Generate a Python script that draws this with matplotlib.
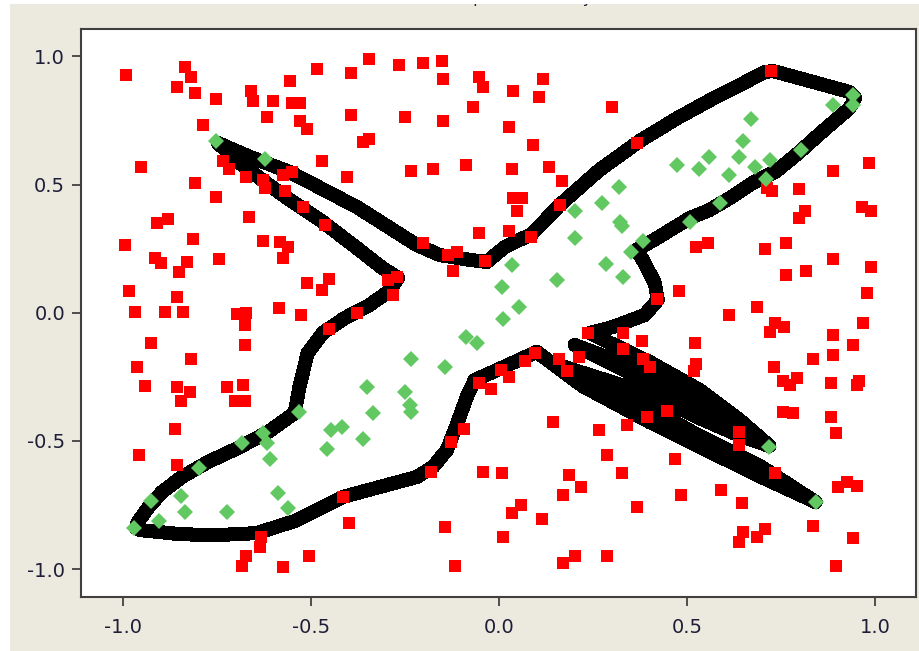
import matplotlib
matplotlib.use("Agg")
import matplotlib.pyplot as plt
from matplotlib.patches import Rectangle

# class 1 samples (red squares)
red_x = [-0.991, -0.836, -0.820, -0.858, -0.809, -0.752, -0.659, -0.654, -0.601, -0.557,
         -0.552, -0.617, -0.787, -0.953, -0.734, -0.719, -0.809, -0.672, -0.628, -0.623,
         -0.574, -0.552, -0.570, -0.752, -0.665, -0.910, -0.880, -0.815, -0.995, -0.629,
         -0.583, -0.561, -0.574, -0.916, -0.898, -0.831, -0.852, -0.745, -0.985, -0.858,
         -0.969, -0.889, -0.842, -0.698, -0.672, -0.585, -0.484, -0.393, -0.346, -0.266,
         -0.202, -0.153, -0.149, -0.053, -0.043, -0.069, -0.530, -0.530, -0.512, -0.393,
         -0.251, -0.149, -0.362, -0.346, -0.472, -0.404, -0.235, -0.176, -0.089, -0.521,
         -0.464, -0.202, -0.136, -0.112, -0.122, -0.038, -0.053, -0.295, -0.271, -0.282,
         -0.512, -0.472, -0.452, -0.379, -0.526, 0.037, 0.117, 0.106, 0.299, 0.027,
         0.090, 0.033, 0.133, 0.166, 0.037, 0.060, 0.048, 0.027, 0.086, 0.161,
         0.367, 0.525, 0.556, 0.479, 0.420, 0.724, 0.713, 0.727, 0.798, 0.813,
         0.798, 0.888, 0.984, 0.964, 0.990, 0.707, 0.762, 0.888, 0.990, 0.762,
         0.815, 0.979, 0.687, 0.612, -0.677, -0.927, -0.820, -0.963, -0.942, -0.856,
         -0.821, -0.847, -0.725, -0.681, -0.703, -0.676, -0.676, -0.863, -0.958, -0.856,
         -0.632, -0.636, -0.674, -0.685, -0.574, -0.452, -0.415, -0.399, -0.506, -0.182,
         -0.127, -0.093, -0.053, -0.022, 0.006, -0.043, 0.009, -0.144, -0.118, 0.011,
         0.237, 0.330, 0.379, 0.330, 0.383, 0.401, 0.520, 0.525, 0.519, 0.027,
         0.068, 0.095, 0.160, 0.181, 0.213, 0.144, 0.265, 0.340, 0.394, 0.447,
         0.286, 0.326, 0.469, 0.186, 0.217, 0.170, 0.057, 0.033, 0.113, 0.485,
         0.367, 0.201, 0.170, 0.287, 0.591, 0.735, 0.757, 0.720, 0.888, 0.968,
         0.941, 0.835, 0.888, 0.731, 0.754, 0.773, 0.793, 0.884, 0.957, 0.953,
         0.755, 0.782, 0.884, 0.895, 0.638, 0.638, 0.733, 0.645, 0.902, 0.924,
         0.951, 0.835, 0.649, 0.638, 0.685, 0.707, 0.941, 0.895]
red_y = [0.927, 0.960, 0.921, 0.882, 0.856, 0.834, 0.865, 0.826, 0.826, 0.904,
         0.818, 0.765, 0.732, 0.567, 0.592, 0.561, 0.505, 0.528, 0.518, 0.485,
         0.537, 0.550, 0.476, 0.450, 0.372, 0.349, 0.366, 0.288, 0.264, 0.280,
         0.277, 0.258, 0.212, 0.212, 0.193, 0.197, 0.160, 0.208, 0.085, 0.062,
         0.002, 0.004, 0.002, -0.006, -0.002, 0.020, 0.951, 0.936, 0.990, 0.966,
         0.975, 0.983, 0.912, 0.921, 0.879, 0.804, 0.819, 0.749, 0.717, 0.771,
         0.762, 0.748, 0.665, 0.678, 0.592, 0.528, 0.553, 0.561, 0.576, 0.414,
         0.342, 0.271, 0.225, 0.238, 0.163, 0.202, 0.310, 0.128, 0.138, 0.069,
         0.115, 0.089, 0.131, -0.002, -0.009, 0.865, 0.912, 0.843, 0.804, 0.726,
         0.654, 0.561, 0.567, 0.514, 0.449, 0.446, 0.397, 0.319, 0.294, 0.420,
         0.663, 0.258, 0.271, 0.085, 0.053, 0.943, 0.485, 0.475, 0.483, 0.397,
         0.368, 0.554, 0.585, 0.414, 0.397, 0.249, 0.273, 0.210, 0.177, 0.147,
         0.163, 0.076, 0.021, -0.009, -0.048, -0.119, -0.182, -0.213, -0.285, -0.291,
         -0.308, -0.343, -0.291, -0.282, -0.343, -0.343, -0.126, -0.455, -0.555, -0.594,
         -0.874, -0.913, -0.949, -0.988, -0.993, -0.065, -0.720, -0.822, -0.948, -0.620,
         -0.503, -0.455, -0.275, -0.298, -0.224, -0.620, -0.627, -0.837, -0.987, -0.874,
         -0.080, -0.078, -0.110, -0.143, -0.182, -0.213, -0.119, -0.200, -0.226, -0.250,
         -0.187, -0.156, -0.182, -0.226, -0.174, -0.425, -0.458, -0.438, -0.406, -0.384,
         -0.555, -0.627, -0.572, -0.633, -0.681, -0.711, -0.750, -0.783, -0.806, -0.711,
         -0.759, -0.948, -0.978, -0.948, -0.692, -0.041, -0.057, -0.074, -0.087, -0.041,
         -0.126, -0.182, -0.165, -0.213, -0.265, -0.282, -0.254, -0.275, -0.265, -0.282,
         -0.386, -0.393, -0.408, -0.471, -0.464, -0.516, -0.627, -0.744, -0.679, -0.659,
         -0.675, -0.831, -0.854, -0.893, -0.874, -0.845, -0.878, -0.988]

# class 2 samples (green diamonds)
green_x = [-0.752, -0.623, 0.201, 0.275, 0.319, 0.321, 0.328, 0.201, 0.033, 0.009,
           0.154, 0.284, 0.330, 0.052, 0.352, 0.383, 0.507, 0.473, 0.532, 0.558,
           0.940, 0.888, 0.940, 0.671, 0.649, 0.638, 0.680, 0.720, 0.612, 0.709,
           0.804, 0.587, 0.011, -0.087, -0.059, -0.144, -0.233, -0.351, -0.251, -0.237,
           -0.233, -0.335, -0.446, -0.419, -0.363, -0.459, -0.532, -0.971, -0.926, -0.905,
           -0.845, -0.836, -0.799, -0.725, -0.684, -0.629, -0.617, -0.608, -0.588, -0.561,
           0.718, 0.842]
green_y = [0.670, 0.599, 0.397, 0.427, 0.489, 0.355, 0.338, 0.290, 0.186, 0.099,
           0.128, 0.189, 0.138, 0.023, 0.238, 0.280, 0.355, 0.576, 0.561, 0.609,
           0.849, 0.810, 0.810, 0.755, 0.671, 0.606, 0.567, 0.596, 0.537, 0.522,
           0.635, 0.427, -0.025, -0.096, -0.119, -0.213, -0.182, -0.291, -0.308, -0.360,
           -0.386, -0.393, -0.458, -0.447, -0.494, -0.533, -0.386, -0.841, -0.735, -0.813,
           -0.715, -0.776, -0.605, -0.776, -0.510, -0.471, -0.510, -0.571, -0.705, -0.763,
           -0.525, -0.737]

# decision boundary, one long polyline (the lower right arm doubles back several times)
boundary_x = [-0.748, -0.663, -0.557, -0.378, -0.219, -0.158, -0.078, -0.033, 0.015, 0.087,
              0.161, 0.267, 0.374, 0.475, 0.566, 0.640, 0.706, 0.728, 0.826, 0.932,
              0.947, 0.932, 0.852, 0.799, 0.738, 0.674, 0.613, 0.560, 0.507, 0.420,
              0.366, 0.387, 0.414, 0.422, 0.387, 0.302, 0.241,
              0.401, 0.534, 0.640, 0.719,
              0.640, 0.534, 0.401, 0.201,
              0.401, 0.534, 0.640, 0.719,
              0.640, 0.534, 0.401, 0.148,
              0.401, 0.534, 0.693, 0.842,
              0.693, 0.568, 0.401, 0.222, 0.100,
              -0.006, -0.065, -0.086, -0.113, -0.139, -0.176, -0.219, -0.318, -0.416, -0.544,
              -0.645, -0.756, -0.849, -0.955, -0.966,
              -0.961, -0.934, -0.897, -0.844, -0.775, -0.695, -0.615, -0.544, -0.530, -0.509,
              -0.469, -0.411, -0.349, -0.291, -0.269,
              -0.310, -0.378, -0.469, -0.557, -0.623, -0.690, -0.748]
boundary_y = [0.662, 0.608, 0.549, 0.412, 0.264, 0.225, 0.206, 0.198, 0.256, 0.307,
              0.420, 0.557, 0.670, 0.760, 0.833, 0.888, 0.939, 0.943, 0.904, 0.861,
              0.838, 0.798, 0.697, 0.627, 0.553, 0.506, 0.447, 0.401, 0.369, 0.291,
              0.245, 0.194, 0.116, 0.050, -0.009, -0.056, -0.079,
              -0.193, -0.302, -0.419, -0.520,
              -0.441, -0.343, -0.236, -0.126,
              -0.274, -0.380, -0.462, -0.520,
              -0.480, -0.412, -0.317, -0.200,
              -0.372, -0.482, -0.597, -0.739,
              -0.638, -0.548, -0.427, -0.286, -0.153,
              -0.224, -0.263, -0.329, -0.439, -0.536, -0.602, -0.641, -0.680, -0.719, -0.813,
              -0.860, -0.868, -0.864, -0.848, -0.840,
              -0.817, -0.762, -0.700, -0.641, -0.583, -0.528, -0.466, -0.392, -0.282, -0.157,
              -0.079, -0.021, 0.026, 0.085, 0.136,
              0.174, 0.252, 0.354, 0.440, 0.510, 0.584, 0.662]

ticks = [-1.0, -0.5, 0.0, 0.5, 1.0]
tick_labels = ["-1.0", "-0.5", "0.0", "0.5", "1.0"]

W, H = 920, 651
fig = plt.figure(figsize=(W / 100, H / 100), dpi=100, facecolor="white")

# beige panel, leaves a thin white strip on the left and top
panel = Rectangle((10 / W, 0), 1 - 10 / W, 1 - 4 / H, transform=fig.transFigure,
                  facecolor="#ECE9DE", edgecolor="none", zorder=-5)
fig.add_artist(panel)

ax = fig.add_axes([81 / W, 1 - 596.7 / H, (915.7 - 81) / W, (596.7 - 28.7) / H])
ax.set_facecolor("white")

ax.plot(boundary_x, boundary_y, color="black", linewidth=9.4,
        solid_joinstyle="round", solid_capstyle="round", antialiased=False, zorder=2)
ax.plot(red_x, red_y, linestyle="none", marker="s", markersize=9.2,
        markerfacecolor="#ff0000", markeredgewidth=0, zorder=3)
ax.plot(green_x, green_y, linestyle="none", marker="D", markersize=8.0,
        markerfacecolor="#62c962", markeredgewidth=0, zorder=4)

ax.set_xlim(-1.112, 1.108)
ax.set_ylim(-1.108, 1.108)
ax.set_xticks(ticks)
ax.set_xticklabels(tick_labels)
ax.set_yticks(ticks)
ax.set_yticklabels(tick_labels)
ax.tick_params(direction="out", length=6.5, width=1.2, color="#333333",
               labelsize=14, labelcolor="#1e1e38")
ax.tick_params(axis="y", pad=5)
ax.tick_params(axis="x", pad=9)
for s in ax.spines.values():
    s.set_color("#404040")
    s.set_linewidth(1.5)

# title, only the descenders show below the panel's top edge
title = fig.text(431 / W, 1 - 3.0 / H, "Perceptron boundary", fontsize=11,
                 color="#1e1e38", ha="left", va="baseline")
title.set_clip_path(panel)

fig.savefig("out.png", dpi=100, facecolor=fig.get_facecolor())
